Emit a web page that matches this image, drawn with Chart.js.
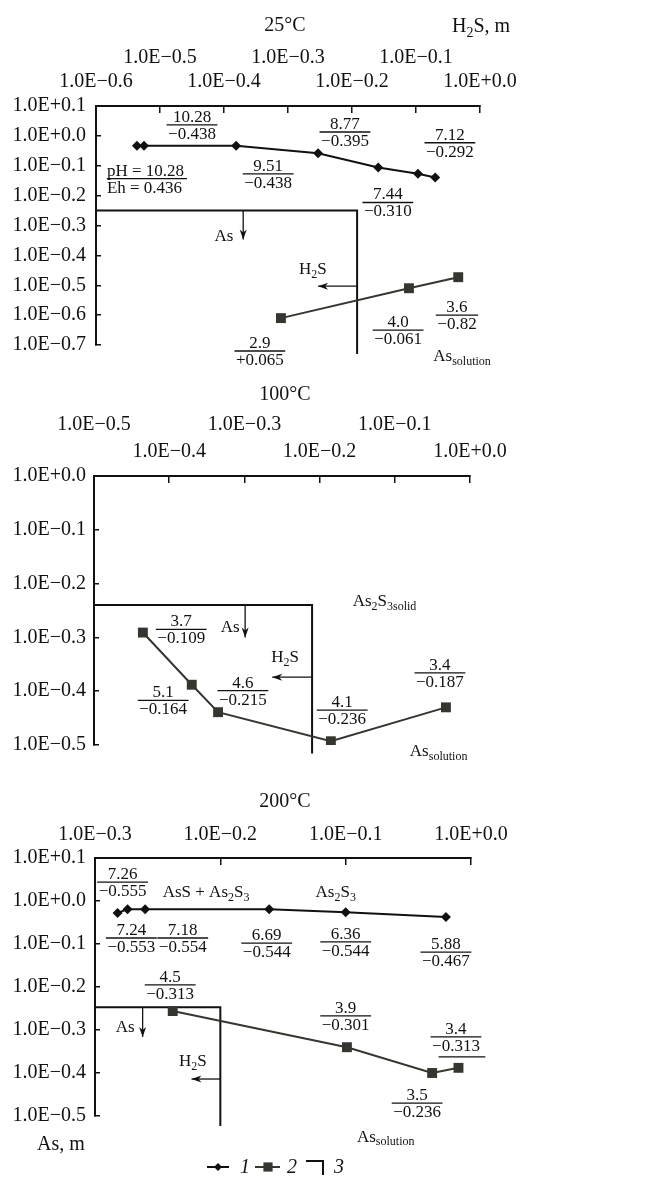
<!DOCTYPE html>
<html>
<head>
<meta charset="utf-8">
<script src="https://cdn.jsdelivr.net/npm/chart.js@4.4.1/dist/chart.umd.min.js"></script>
<style>
  html, body { margin: 0; padding: 0; background: #fff; }
  #wrap { position: relative; width: 662px; height: 1178px; overflow: hidden; }
  canvas { position: absolute; left: 0; }
</style>
</head>
<body>
<div id="wrap">
  <canvas id="c25" width="662" height="380" style="top:0"></canvas>
  <canvas id="c100" width="662" height="400" style="top:370px"></canvas>
  <canvas id="c200" width="662" height="408" style="top:770px"></canvas>
</div>
<script>
// ── data: log H2S (x) / log As (y) ─────────────────────────────
// 25°C
const h2s25Curve1 = [-0.536, -0.525, -0.381, -0.253, -0.159, -0.097, -0.070];
const as25Curve1  = [-0.033, -0.033, -0.033, -0.058, -0.106, -0.127, -0.139];
const h2s25Curve2 = [-0.311, -0.111, -0.034];
const as25Curve2  = [-0.610, -0.510, -0.473];
const h2s25Bound  = [-0.6, -0.192, -0.192];
const as25Bound   = [-0.25, -0.25, -0.73];
// 100°C
const h2s100Curve2 = [-0.435, -0.370, -0.335, -0.185, -0.032];
const as100Curve2  = [-0.291, -0.388, -0.439, -0.493, -0.430];
const h2s100Bound  = [-0.5, -0.21, -0.21];
const as100Bound   = [-0.24, -0.24, -0.516];
// 200°C
const h2s200Curve1 = [-0.282, -0.274, -0.260, -0.161, -0.100, -0.020];
const as200Curve1  = [-0.028, -0.019, -0.019, -0.019, -0.026, -0.037];
const h2s200Curve2 = [-0.238, -0.099, -0.031, -0.010];
const as200Curve2  = [-0.256, -0.340, -0.400, -0.388];
const h2s200Bound  = [-0.3, -0.2, -0.2];
const as200Bound   = [-0.247, -0.247, -0.523];

// pH / Eh pairs written beside the points
const phEh25  = [['10.28','−0.438'],['9.51','−0.438'],['8.77','−0.395'],['7.44','−0.310'],['7.12','−0.292'],['2.9','+0.065'],['4.0','−0.061'],['3.6','−0.82']];
const phEh100 = [['3.7','−0.109'],['5.1','−0.164'],['4.6','−0.215'],['4.1','−0.236'],['3.4','−0.187']];
const phEh200 = [['7.26','−0.555'],['7.24','−0.553'],['7.18','−0.554'],['6.69','−0.544'],['6.36','−0.544'],['5.88','−0.467'],['4.5','−0.313'],['3.9','−0.301'],['3.4','−0.313'],['3.5','−0.236']];
const legendNames = ['1', '2', '3'];

// where those pairs sit (data units)
const phEh25At  = [[-0.45,0.037],[-0.331,-0.127],[-0.211,0.013],[-0.144,-0.223],[-0.047,-0.023],[-0.344,-0.72],[-0.128,-0.65],[-0.036,-0.60]];
const phEh100At = [[-0.384,-0.285],[-0.408,-0.417],[-0.302,-0.399],[-0.170,-0.435],[-0.040,-0.366]];
const phEh200At = [[-0.278,0.044],[-0.271,-0.086],[-0.230,-0.086],[-0.163,-0.098],[-0.100,-0.095],[-0.020,-0.119],[-0.240,-0.195],[-0.100,-0.267],[-0.012,-0.316],[-0.043,-0.470]];

const INK = '#111';
const INK2 = '#34372f';
const SERIF = '"Liberation Serif", "DejaVu Serif", serif';
Chart.defaults.font.family = SERIF;
Chart.defaults.color = INK;

function sci(v) {
  const r = Math.round(v * 10) / 10;
  return '1.0E' + (r < 0 ? '\u2212' : '+') + Math.abs(r).toFixed(1);
}

function pts(xs, ys) { return xs.map((x, i) => ({ x: x, y: ys[i] })); }

// ── drawing helpers for the annotations ────────────────────────
function rich(ctx, parts, x, y, size, align) {
  const big = `${size}px ${SERIF}`, small = `${Math.round(size * 0.7)}px ${SERIF}`;
  let w = 0;
  parts.forEach(p => { ctx.font = p[1] ? small : big; w += ctx.measureText(p[0]).width; });
  let cx = align === 'left' ? x : x - w / 2;
  ctx.textAlign = 'left';
  ctx.textBaseline = 'middle';
  parts.forEach(p => {
    ctx.font = p[1] ? small : big;
    ctx.fillText(p[0], cx, p[1] ? y + size * 0.3 : y);
    cx += ctx.measureText(p[0]).width;
  });
}

function frac(ctx, x, y, num, den, align, under) {
  ctx.font = `17px ${SERIF}`;
  const w = Math.max(ctx.measureText(num).width, ctx.measureText(den).width) + 3;
  const left = align === 'left' ? x : x - w / 2;
  ctx.textBaseline = 'alphabetic';
  ctx.textAlign = align === 'left' ? 'left' : 'center';
  const tx = align === 'left' ? left : x;
  ctx.fillText(num, tx, y - 3);
  ctx.fillText(den, tx, y + 14);
  ctx.lineWidth = 1.3;
  ctx.beginPath();
  ctx.moveTo(left, y); ctx.lineTo(left + w, y);
  if (under) { ctx.moveTo(left + 8, y + 20); ctx.lineTo(left + w + 4, y + 20); }
  ctx.stroke();
}

function arrow(ctx, x1, y1, x2, y2) {
  const a = Math.atan2(y2 - y1, x2 - x1);
  ctx.lineWidth = 1.3;
  ctx.beginPath(); ctx.moveTo(x1, y1); ctx.lineTo(x2, y2); ctx.stroke();
  ctx.beginPath();
  ctx.moveTo(x2, y2);
  ctx.lineTo(x2 - 10 * Math.cos(a) + 3.5 * Math.sin(a), y2 - 10 * Math.sin(a) - 3.5 * Math.cos(a));
  ctx.lineTo(x2 - 7 * Math.cos(a), y2 - 7 * Math.sin(a));
  ctx.lineTo(x2 - 10 * Math.cos(a) - 3.5 * Math.sin(a), y2 - 10 * Math.sin(a) + 3.5 * Math.cos(a));
  ctx.closePath(); ctx.fill();
}

function notes(cfg) {
  return {
    id: 'notes',
    afterDatasetsDraw(chart) {
      const ctx = chart.ctx, sx = chart.scales.x, sy = chart.scales.y;
      ctx.save();
      ctx.fillStyle = INK; ctx.strokeStyle = INK;
      (cfg.arrows || []).forEach(a => arrow(ctx, sx.getPixelForValue(a[0]), sy.getPixelForValue(a[1]), sx.getPixelForValue(a[2]), sy.getPixelForValue(a[3])));
      cfg.labels.forEach((l, i) => frac(ctx, sx.getPixelForValue(cfg.at[i][0]), sy.getPixelForValue(cfg.at[i][1]), l[0], l[1], 'center', cfg.under === i));
      if (cfg.ph) frac(ctx, sx.getPixelForValue(cfg.ph.x), sy.getPixelForValue(cfg.ph.y), cfg.ph.t[0], cfg.ph.t[1], 'left');
      (cfg.texts || []).forEach(t => rich(ctx, t.parts, sx.getPixelForValue(t.x), sy.getPixelForValue(t.y), 17, t.align));
      (cfg.heads || []).forEach(t => rich(ctx, t.parts, t.px, t.py, 20, t.align));
      if (cfg.legend) drawLegend(chart, cfg.legend);
      ctx.restore();
    }
  };
}

function drawLegend(chart, y) {
  const ctx = chart.ctx;
  const ds = chart.data.datasets;
  // item 1
  ctx.strokeStyle = ds[0].borderColor; ctx.fillStyle = ds[0].backgroundColor; ctx.lineWidth = 2;
  ctx.beginPath(); ctx.moveTo(207, y); ctx.lineTo(229, y); ctx.stroke();
  Chart.helpers.drawPoint(ctx, { pointStyle: 'rectRot', radius: 4, borderWidth: 0 }, 218, y);
  // item 2
  ctx.strokeStyle = ds[1].borderColor; ctx.fillStyle = ds[1].backgroundColor;
  ctx.beginPath(); ctx.moveTo(255, y); ctx.lineTo(280, y); ctx.stroke();
  Chart.helpers.drawPoint(ctx, { pointStyle: 'rect', radius: 6.5, borderWidth: 0 }, 268, y);
  // item 3: the boundary corner
  ctx.strokeStyle = INK; ctx.lineWidth = 2;
  ctx.beginPath(); ctx.moveTo(306, y - 6); ctx.lineTo(323, y - 6); ctx.lineTo(323, y + 8); ctx.stroke();
  ctx.fillStyle = INK;
  ctx.font = `italic 20px ${SERIF}`;
  ctx.textAlign = 'left'; ctx.textBaseline = 'middle';
  ctx.fillText(legendNames[0], 240, y + 1);
  ctx.fillText(legendNames[1], 287, y + 1);
  ctx.fillText(legendNames[2], 334, y + 1);
}

function datasets(c1, c2, bound) {
  return [
    { label: legendNames[0], data: c1, showLine: true, borderColor: INK, backgroundColor: INK,
      borderWidth: 2, pointStyle: 'rectRot', pointRadius: 5, pointBorderWidth: 0, hidden: !c1.length },
    { label: legendNames[1], data: c2, showLine: true, borderColor: INK2, backgroundColor: INK2,
      borderWidth: 2, pointStyle: 'rect', pointRadius: 7, pointBorderWidth: 0 },
    { label: legendNames[2], data: bound, showLine: true, borderColor: INK, borderWidth: 2,
      pointRadius: 0, clip: false }
  ];
}

function panel(id, p) {
  const canvas = document.getElementById(id);
  const H = canvas.height, a = p.area;
  return new Chart(canvas, {
    type: 'scatter',
    data: { datasets: datasets(p.c1, p.c2, p.bound) },
    options: {
      responsive: false, animation: false, devicePixelRatio: 1,
      layout: { padding: { left: 0, top: 0, right: 662 - a.right, bottom: H - a.bottom } },
      plugins: { legend: { display: false }, tooltip: { enabled: false } },
      scales: {
        x: {
          type: 'linear', position: 'top', min: p.xMin, max: 0,
          afterFit: s => { s.height = a.top; },
          ticks: {
            stepSize: 0.1, autoSkip: false, maxRotation: 0, minRotation: 0,
            padding: p.xPad, color: INK, font: { size: 20, lineHeight: p.lh + 'px' },
            callback: v => {
              const s = sci(v);
              if (!p.stagger) return s;
              return Math.round(Math.abs(v) * 10) % 2 ? [s, ''] : ['', s];
            }
          },
          grid: { drawOnChartArea: false, drawTicks: true, tickLength: -7, color: INK, lineWidth: 1.5 },
          border: { display: true, color: INK, width: 2 }
        },
        y: {
          type: 'linear', position: 'left', min: p.yMin, max: p.yMax,
          afterFit: s => { s.width = a.left; },
          ticks: { stepSize: 0.1, autoSkip: false, padding: p.yPad, color: INK, font: { size: 20 }, callback: v => sci(v) },
          grid: { drawOnChartArea: false, drawTicks: true, tickLength: -5, color: INK, lineWidth: 1.5 },
          border: { display: true, color: INK, width: 2 }
        }
      }
    },
    plugins: [notes(p.notes)]
  });
}

// 25°C
panel('c25', {
  area: { left: 96, top: 106, right: 480, bottom: 345 },
  xMin: -0.6, yMin: -0.7, yMax: 0.1, stagger: true, lh: 24, xPad: 19, yPad: 15,
  c1: pts(h2s25Curve1, as25Curve1), c2: pts(h2s25Curve2, as25Curve2), bound: pts(h2s25Bound, as25Bound),
  notes: {
    labels: phEh25, at: phEh25At,
    ph: { t: ['pH = 10.28', 'Eh = 0.436'], x: -0.583, y: -0.143 },
    arrows: [[-0.370, -0.25, -0.370, -0.347], [-0.192, -0.503, -0.253, -0.503]],
    texts: [
      { parts: [['As']], x: -0.40, y: -0.337 },
      { parts: [['H'], ['2', 1], ['S']], x: -0.261, y: -0.447 },
      { parts: [['As'], ['solution', 1]], x: -0.073, y: -0.74, align: 'left' }
    ],
    heads: [
      { parts: [['25°C']], px: 285, py: 26 },
      { parts: [['H'], ['2', 1], ['S, m']], px: 452, py: 27, align: 'left' }
    ]
  }
});

// 100°C
panel('c100', {
  area: { left: 94, top: 106, right: 470, bottom: 383 },
  xMin: -0.5, yMin: -0.5, yMax: 0, stagger: true, lh: 27, xPad: 17.5, yPad: 13,
  c1: [], c2: pts(h2s100Curve2, as100Curve2), bound: pts(h2s100Bound, as100Bound),
  notes: {
    labels: phEh100, at: phEh100At,
    arrows: [[-0.299, -0.24, -0.299, -0.30], [-0.21, -0.374, -0.263, -0.374]],
    texts: [
      { parts: [['As']], x: -0.319, y: -0.282 },
      { parts: [['H'], ['2', 1], ['S']], x: -0.246, y: -0.338 },
      { parts: [['As'], ['2', 1], ['S'], ['3solid', 1]], x: -0.156, y: -0.233, align: 'left' },
      { parts: [['As'], ['solution', 1]], x: -0.080, y: -0.513, align: 'left' }
    ],
    heads: [{ parts: [['100°C']], px: 285, py: 25 }]
  }
});

// 200°C
panel('c200', {
  area: { left: 95, top: 88, right: 471, bottom: 346 },
  xMin: -0.3, yMin: -0.5, yMax: 0.1, stagger: false, lh: 24, xPad: 18, yPad: 14,
  c1: pts(h2s200Curve1, as200Curve1), c2: pts(h2s200Curve2, as200Curve2), bound: pts(h2s200Bound, as200Bound),
  notes: {
    labels: phEh200, at: phEh200At, under: 8,
    arrows: [[-0.262, -0.247, -0.262, -0.316], [-0.2, -0.414, -0.223, -0.414]],
    texts: [
      { parts: [['AsS + As'], ['2', 1], ['S'], ['3', 1]], x: -0.246, y: 0.019, align: 'left' },
      { parts: [['As'], ['2', 1], ['S'], ['3', 1]], x: -0.124, y: 0.019, align: 'left' },
      { parts: [['As']], x: -0.276, y: -0.295 },
      { parts: [['H'], ['2', 1], ['S']], x: -0.222, y: -0.374 },
      { parts: [['As'], ['solution', 1]], x: -0.091, y: -0.549, align: 'left' }
    ],
    heads: [
      { parts: [['200°C']], px: 285, py: 32 },
      { parts: [['As, m']], px: 37, py: 375, align: 'left' }
    ],
    legend: 397
  }
});
</script>
</body>
</html>
